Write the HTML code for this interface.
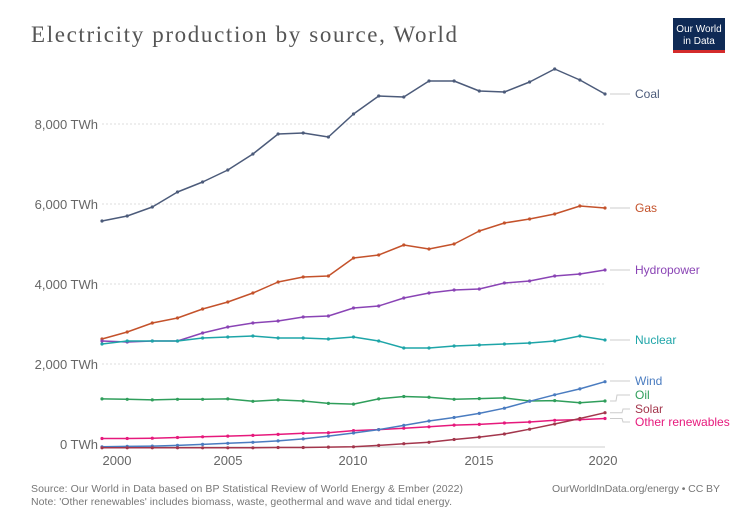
<!DOCTYPE html>
<html><head><meta charset="utf-8"><style>
html,body{margin:0;padding:0;background:#fff;}
svg{display:block;font-family:"Liberation Sans",sans-serif;}
</style></head><body>
<svg width="751" height="523" viewBox="0 0 751 523" xmlns="http://www.w3.org/2000/svg">
<defs>
<marker id="m" viewBox="-2 -2 4 4" markerWidth="4" markerHeight="4" markerUnits="userSpaceOnUse"><circle r="1.6" fill="context-stroke"/></marker>
</defs>
<rect width="751" height="523" fill="#fff"/>
<text x="31" y="42" font-family="Liberation Serif,serif" font-size="23" fill="#555" textLength="426">Electricity production by source, World</text>
<rect x="673" y="18" width="52" height="34" fill="#0f2a55"/>
<rect x="673" y="50" width="52" height="3" fill="#d42b2b"/>
<text x="699" y="32" font-size="10" fill="#fff" text-anchor="middle">Our World</text>
<text x="699" y="44" font-size="10" fill="#fff" text-anchor="middle">in Data</text>
<g stroke="#ddd" stroke-dasharray="2,2" stroke-width="1">
<line x1="102" y1="124" x2="605" y2="124"/><line x1="102" y1="204" x2="605" y2="204"/><line x1="102" y1="284" x2="605" y2="284"/><line x1="102" y1="364" x2="605" y2="364"/>
</g>
<line x1="102" y1="447" x2="605" y2="447" stroke="#ccc"/>
<g font-size="13" fill="#666" text-anchor="end">
<text x="98" y="129">8,000 TWh</text><text x="98" y="209">6,000 TWh</text><text x="98" y="289">4,000 TWh</text><text x="98" y="369">2,000 TWh</text><text x="98" y="449">0 TWh</text>
</g>
<g font-size="13" fill="#666" text-anchor="middle">
<text x="117" y="465">2000</text><text x="228" y="465">2005</text><text x="353" y="465">2010</text><text x="479" y="465">2015</text><text x="603" y="465">2020</text>
</g>
<g fill="none" stroke-width="1.5" stroke-linejoin="round" marker-start="url(#m)" marker-mid="url(#m)" marker-end="url(#m)">
<polyline stroke="#4c5b7a" points="102,221 127.2,216 152.3,207 177.5,192 202.6,182 227.8,170 252.9,154 278.1,134 303.2,133 328.4,137 353.5,114 378.7,96 403.8,97 429,81 454.1,81 479.3,91 504.4,92 529.6,82 554.7,69 579.9,80 605,94"/>
<polyline stroke="#c4522b" points="102,339 127.2,332 152.3,323 177.5,318 202.6,309 227.8,302 252.9,293 278.1,282 303.2,277 328.4,276 353.5,258 378.7,255 403.8,245 429,249 454.1,244 479.3,231 504.4,223 529.6,219 554.7,214 579.9,206 605,208"/>
<polyline stroke="#8a44b5" points="102,341 127.2,342 152.3,341 177.5,341 202.6,333 227.8,327 252.9,323 278.1,321 303.2,317 328.4,316 353.5,308 378.7,306 403.8,298 429,293 454.1,290 479.3,289 504.4,283 529.6,281 554.7,276 579.9,274 605,270"/>
<polyline stroke="#1ea5a8" points="102,344 127.2,341 152.3,341 177.5,341 202.6,338 227.8,337 252.9,336 278.1,338 303.2,338 328.4,339 353.5,337 378.7,341 403.8,348 429,348 454.1,346 479.3,345 504.4,344 529.6,343 554.7,341 579.9,336 605,340"/>
<polyline stroke="#2f9e5b" points="102,398.9 127.2,399.3 152.3,399.9 177.5,399.3 202.6,399.3 227.8,398.9 252.9,401.3 278.1,399.9 303.2,401 328.4,403.4 353.5,404.1 378.7,398.9 403.8,396.5 429,397.2 454.1,399.3 479.3,398.6 504.4,397.9 529.6,401 554.7,400.6 579.9,402.7 605,401"/>
<polyline stroke="#e6197c" points="102,438.5 127.2,438.5 152.3,438.2 177.5,437.5 202.6,436.8 227.8,436.1 252.9,435.4 278.1,434.4 303.2,433.3 328.4,432.7 353.5,430.6 378.7,429.6 403.8,428.2 429,426.8 454.1,425.1 479.3,424.4 504.4,423 529.6,422 554.7,420.3 579.9,419.6 605,418.5"/>
<polyline stroke="#4a7cc0" points="102,446.8 127.2,446.4 152.3,446.1 177.5,445.4 202.6,444.4 227.8,443.3 252.9,442.3 278.1,440.9 303.2,438.9 328.4,436.1 353.5,433 378.7,429.6 403.8,425.4 429,421 454.1,417.5 479.3,413.4 504.4,408.2 529.6,401.3 554.7,394.8 579.9,388.9 605,381.7"/>
<polyline stroke="#a3364c" points="102,447.8 127.2,447.8 152.3,447.8 177.5,447.8 202.6,447.8 227.8,447.8 252.9,447.8 278.1,447.5 303.2,447.5 328.4,447.1 353.5,446.8 378.7,445.4 403.8,443.7 429,442.3 454.1,439.5 479.3,437.1 504.4,434 529.6,429.2 554.7,424 579.9,418.5 605,412.7"/>
</g>
<g stroke="#ccc" fill="none" stroke-width="1">
<line x1="610" y1="94" x2="630" y2="94"/><line x1="610" y1="208" x2="630" y2="208"/><line x1="610" y1="270" x2="630" y2="270"/><line x1="610" y1="340" x2="630" y2="340"/><line x1="610" y1="381" x2="630" y2="381"/>
<polyline points="610,401 616,401 617,395 630,395"/><polyline points="610,412.7 622,412.7 623,409 630,409"/><polyline points="610,418.5 622,418.5 623,422 630,422"/>
</g>
<g font-size="12">
<text x="635" y="98" fill="#4c5b7a">Coal</text>
<text x="635" y="212" fill="#c4522b">Gas</text>
<text x="635" y="274" fill="#8a44b5">Hydropower</text>
<text x="635" y="344" fill="#1ea5a8">Nuclear</text>
<text x="635" y="385" fill="#4a7cc0">Wind</text>
<text x="635" y="399" fill="#2f9e5b">Oil</text>
<text x="635" y="413" fill="#a3364c">Solar</text>
<text x="635" y="426" fill="#e6197c">Other renewables</text>
</g>
<g font-size="10.5" fill="#777">
<text x="31" y="492" textLength="432">Source: Our World in Data based on BP Statistical Review of World Energy &amp; Ember (2022)</text>
<text x="31" y="505" textLength="421">Note: 'Other renewables' includes biomass, waste, geothermal and wave and tidal energy.</text>
<text x="552" y="492" textLength="168">OurWorldInData.org/energy • CC BY</text>
</g>
</svg>
</body></html>
